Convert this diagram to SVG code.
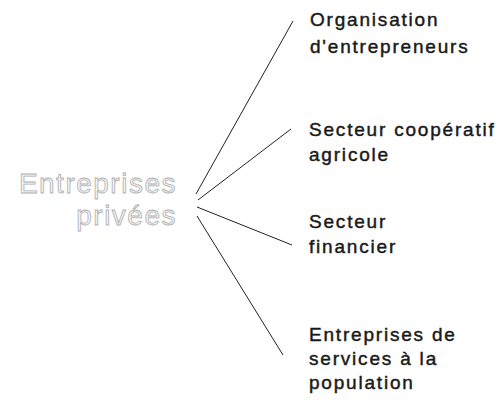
<svg xmlns="http://www.w3.org/2000/svg" width="504" height="400" viewBox="0 0 504 400">
<style>
.lbl{font-family:"Liberation Sans",Arial,sans-serif;font-size:19px;letter-spacing:1.8px;fill:#1a1a1a;stroke:#1a1a1a;stroke-width:0.45}
.root{font-family:"Liberation Sans",Arial,sans-serif;font-size:28px;letter-spacing:1.5px;fill:#f4f4f4;stroke:#b0b0b0;stroke-width:0.8}
.conn line{stroke:#222;stroke-width:1;fill:none}
</style>
<rect width="504" height="400" fill="#fff"/>
<g id="connectors" class="conn">
<line x1="196" y1="194" x2="293" y2="21"/>
<line x1="198" y1="200" x2="291" y2="129"/>
<line x1="197" y1="207" x2="292" y2="245"/>
<line x1="197" y1="216" x2="283" y2="355"/>
</g>
<g id="root">
<text class="root" x="177" y="193" text-anchor="end">Entreprises</text>
<text class="root" x="177" y="225" text-anchor="end">privées</text>
</g>
<g id="n1">
<text class="lbl" x="310" y="26">Organisation</text>
<text class="lbl" x="310" y="53">d'entrepreneurs</text>
</g>
<g id="n2">
<text class="lbl" x="309" y="136">Secteur coopératif</text>
<text class="lbl" x="309" y="161">agricole</text>
</g>
<g id="n3">
<text class="lbl" x="309" y="228">Secteur</text>
<text class="lbl" x="309" y="253">financier</text>
</g>
<g id="n4">
<text class="lbl" x="309" y="341">Entreprises de</text>
<text class="lbl" x="309" y="365">services à la</text>
<text class="lbl" x="309" y="389">population</text>
</g>
</svg>
